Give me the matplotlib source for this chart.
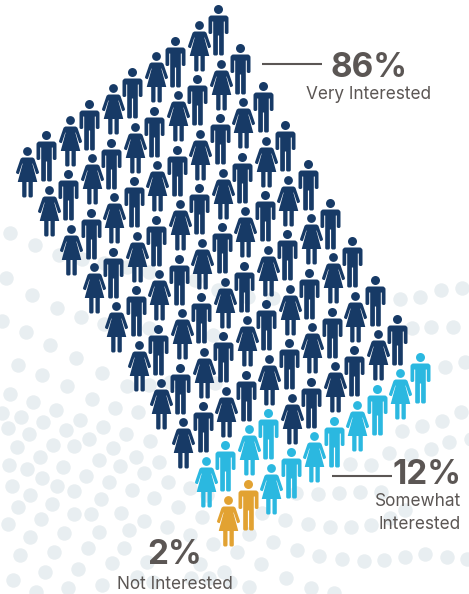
import numpy as np
import matplotlib
matplotlib.use("Agg")
import matplotlib.pyplot as plt
from matplotlib.path import Path

plt.rcParams['font.family'] = ['Inter', 'Lato', 'DejaVu Sans']

# survey answers, one person icon per percentage point
labels = ["Very Interested", "Somewhat\nInterested", "Not Interested"]
shares = [86, 12, 2]
share_text = ["86%", "12%", "2%"]
colors = ["#173A66", "#2BB8E0", "#E2A232"]

grey = "#5B5654"
dot_color = "#E8EEF1"

# the pictogram is 10 x 10, tilted into a diamond
n_rows = 10
n_cols = 10

# decorative dots behind the people
backdrop_dots = [
    (10,233),(35,245),(59,255),(82,259),(104,263),(127,267),(149,272),(6,278),(195,280),(218,290),
    (32,295),(57,308),(81,317),(2,321),(26,332),(50,345),(104,324),(76,358),(18,365),(102,373),
    (42,375),(67,386),(10,394),(92,399),(33,402),(127,386),(56,410),(115,408),(138,412),(21,417),
    (80,420),(2,413),(43,422),(8,428),(103,427),(66,430),(29,434),(126,434),(89,439),(53,445),
    (17,447),(150,441),(74,446),(113,448),(40,457),(99,460),(136,457),(9,465),(159,462),(63,467),
    (27,469),(120,466),(86,476),(42,478),(144,473),(109,482),(12,486),(57,486),(168,482),(74,491),
    (132,490),(30,495),(101,499),(154,498),(52,504),(18,507),(178,507),(74,514),(91,514),(121,513),
    (202,517),(41,519),(144,521),(8,524),(129,530),(99,532),(64,533),(167,527),(30,537),(190,535),
    (213,544),(88,548),(124,548),(54,552),(20,555),(112,563),(78,569),(45,572),(13,580),(102,585),
    (68,588),(36,592),(149,328),(213,335),(149,385),(170,382),(215,383),(190,488),(207,495),
    (200,564),(224,572),(147,562),(137,577),(191,578),(209,578),(153,582),(230,582),
    (248,297),(273,298),(400,299),(420,297),(441,290),(462,288),(412,328),(431,327),(453,327),
    (445,367),(465,362),(461,412),(442,421),(422,426),(402,431),(471,439),(449,442),(431,449),
    (411,455),(389,453),(350,464),(371,465),(296,493),(318,494),(339,493),(360,492),(381,492),
    (405,510),(390,518),(371,525),(351,527),(330,527),(308,524),(285,520),(262,513),(273,542),
    (297,550),(319,556),(342,559),(364,561),(384,560),(405,557),(425,554),(447,557),(467,559),
    (261,564),(286,578),(311,588),(334,593),(249,587),(237,552),(249,534),
]


def rounded_outline(corners):
    # corners are (x, y, radius), y pointing down from the head centre
    pts = np.array([c[:2] for c in corners], dtype=float)
    radii = [c[2] for c in corners]
    n = len(pts)
    verts = []
    codes = []
    for i in range(n):
        p = pts[i]
        before = pts[i - 1] - p
        after = pts[(i + 1) % n] - p
        len_b = np.hypot(*before)
        len_a = np.hypot(*after)
        r = min(radii[i], len_b / 2, len_a / 2)
        verts += [p + before / len_b * r, p, p + after / len_a * r]
        codes += [Path.LINETO, Path.CURVE3, Path.CURVE3]
    codes[0] = Path.MOVETO
    verts.append(verts[0])
    codes.append(Path.CLOSEPOLY)
    return Path(np.array(verts) * [1, -1], codes)


man_body = [
    (-10, 6, 3), (10, 6, 3), (10, 24.5, 1.6), (6.3, 24.5, 1.6), (6.3, 12, 0.3), (5.3, 12, 0.3),
    (5.3, 46, 1.6), (0.6, 46, 1.6), (0.6, 26, 0.2), (-0.6, 26, 0.2), (-0.6, 46, 1.6), (-5.3, 46, 1.6),
    (-5.3, 12, 0.3), (-6.3, 12, 0.3), (-6.3, 24.5, 1.6), (-10, 24.5, 1.6),
]
woman_body = [
    (-6.5, 6, 2), (6.5, 6, 2), (11.8, 21.5, 1.2), (8.8, 23, 1.2), (5.2, 12, 0.3), (4.8, 12, 0.3),
    (9.8, 30.5, 0.4), (5.3, 30.5, 0.3), (5.3, 46, 1.6), (1, 46, 1.6), (1, 30.5, 0.2), (-1, 30.5, 0.2),
    (-1, 46, 1.6), (-5.3, 46, 1.6), (-5.3, 30.5, 0.3), (-9.8, 30.5, 0.4), (-4.8, 12, 0.3), (-5.2, 12, 0.3),
    (-8.8, 23, 1.2), (-11.8, 21.5, 1.2),
]
man = Path.make_compound_path(Path.circle((0, 0), 4.5), rounded_outline(man_body))
woman = Path.make_compound_path(Path.circle((0, 0), 4.4), rounded_outline(woman_body))

# custom markers get rescaled to their largest coordinate (46), so this size keeps 1 unit = 1 px
icon_size = (2 * 46 * 72 / 100) ** 2

fig = plt.figure(figsize=(4.69, 5.94), dpi=100)
ax = fig.add_axes([0, 0, 1, 1])
ax.set_xlim(0, 469)
ax.set_ylim(594, 0)
ax.axis("off")

dots = np.array(backdrop_dots)
ax.scatter(dots[:, 0], dots[:, 1], s=108, color=dot_color, linewidths=0, zorder=1)

# rows run down to the right, columns down to the left
rows, cols = np.divmod(np.arange(n_rows * n_cols), n_cols)
xs = 218 + rows * 22.4 - cols * 21.5
ys = 9 + rows * 38.7 + cols * 15.8
answer = np.repeat(np.arange(len(shares)), shares)

for k, color in enumerate(colors):
    pick = (answer == k) & (cols % 2 == 0)
    ax.scatter(xs[pick], ys[pick], s=icon_size, marker=man, color=color, linewidths=0, zorder=3)
    pick = (answer == k) & (cols % 2 == 1)
    ax.scatter(xs[pick] + 2, ys[pick], s=icon_size, marker=woman, color=color, linewidths=0, zorder=3)

# leader lines
ax.plot([262, 322], [64, 64], color=grey, lw=1.5, solid_capstyle="butt", zorder=4)
ax.plot([332, 392], [476, 476], color=grey, lw=1.5, solid_capstyle="butt", zorder=4)

# call-outs
big = 24
small = 12.4
ax.text(369, 77, share_text[0], fontsize=big, fontweight="bold", color=grey, ha="center", va="baseline", zorder=5)
ax.text(369, 99, labels[0], fontsize=small, color=grey, ha="center", va="baseline", zorder=5)
ax.text(461, 484, share_text[1], fontsize=big, fontweight="bold", color=grey, ha="right", va="baseline", zorder=5)
ax.text(461, 506, "Somewhat", fontsize=small, color=grey, ha="right", va="baseline", zorder=5)
ax.text(461, 529, "Interested", fontsize=small, color=grey, ha="right", va="baseline", zorder=5)
ax.text(175, 564, share_text[2], fontsize=big, fontweight="bold", color=grey, ha="center", va="baseline", zorder=5)
ax.text(175, 589, labels[2], fontsize=small, color=grey, ha="center", va="baseline", zorder=5)

fig.savefig("out.png", dpi=100)
